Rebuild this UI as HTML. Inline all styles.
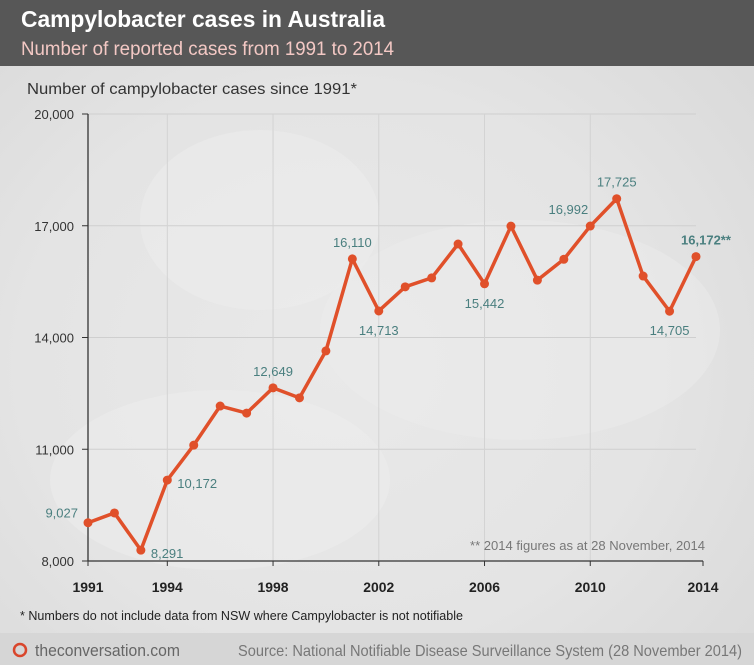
<!DOCTYPE html>
<html><head><meta charset="utf-8"><style>
body{margin:0;width:754px;height:665px;overflow:hidden;font-family:"Liberation Sans",sans-serif;}
</style></head><body>
<svg width="754" height="665" xmlns="http://www.w3.org/2000/svg" id="svg">
<defs>
<radialGradient id="bg" cx="0.45" cy="0.55" r="0.7"><stop offset="0" stop-color="#e9e9e9"/><stop offset="0.6" stop-color="#e4e4e4"/><stop offset="1" stop-color="#dadada"/></radialGradient>
</defs>
<rect x="0" y="0" width="754" height="665" fill="url(#bg)"/>
<ellipse cx="260" cy="220" rx="120" ry="90" fill="#eeeeee" opacity="0.5"/>
<ellipse cx="520" cy="330" rx="200" ry="110" fill="#ececec" opacity="0.5"/>
<ellipse cx="220" cy="480" rx="170" ry="90" fill="#eeeeee" opacity="0.5"/>
<rect x="0" y="0" width="754" height="66" fill="#575757"/>
<text x="21" y="27" font-size="23" font-weight="bold" fill="#fff" textLength="364" lengthAdjust="spacingAndGlyphs">Campylobacter cases in Australia</text>
<text x="21" y="55" font-size="19" fill="#f3c8c4" textLength="373" lengthAdjust="spacingAndGlyphs">Number of reported cases from 1991 to 2014</text>
<text x="27" y="94" font-size="16" fill="#333" textLength="330" lengthAdjust="spacingAndGlyphs">Number of campylobacter cases since 1991*</text>
<g id="grid"></g><g id="axes"></g><g id="series"></g>
<text x="470" y="550" font-size="13" fill="#777" textLength="235" lengthAdjust="spacingAndGlyphs">** 2014 figures as at 28 November, 2014</text>
<text x="20" y="620" font-size="13" fill="#222" textLength="443" lengthAdjust="spacingAndGlyphs">* Numbers do not include data from NSW where Campylobacter is not notifiable</text>
<rect x="0" y="633" width="754" height="32" fill="#d6d6d6"/>
<circle cx="20" cy="650" r="6" fill="none" stroke="#d9462c" stroke-width="2.5"/>
<text x="35" y="656" font-size="17" fill="#666" textLength="145" lengthAdjust="spacingAndGlyphs">theconversation.com</text>
<text x="238" y="656" font-size="16" fill="#777" textLength="504" lengthAdjust="spacingAndGlyphs">Source: National Notifiable Disease Surveillance System (28 November 2014)</text>
</svg>
<script>
const years=[1991,1992,1993,1994,1995,1996,1997,1998,1999,2000,2001,2002,2003,2004,2005,2006,2007,2008,2009,2010,2011,2012,2013,2014];
const cases=[9027,9290,8291,10172,11110,12160,11970,12649,12380,13640,16110,14713,15360,15600,16510,15442,16990,15540,16100,16992,17725,15650,14705,16172];
const yTicks=[8000,11000,14000,17000,20000];
const xTicks=[1991,1994,1998,2002,2006,2010,2014];
const labelled={1991:["9,027","l"],1993:["8,291","r"],1994:["10,172","r"],1998:["12,649","a"],2001:["16,110","a"],2002:["14,713","b"],2006:["15,442","b"],2010:["16,992","al"],2011:["17,725","a"],2013:["14,705","b"],2014:["16,172**","ar"]};
const X=y=>88+(y-1991)*(696-88)/23;
const Y=v=>561-(v-8000)*(561-114)/12000;
const NS="http://www.w3.org/2000/svg";
function mk(t,a,p){const e=document.createElementNS(NS,t);for(const k in a)e.setAttribute(k,a[k]);document.getElementById(p).appendChild(e);return e;}
yTicks.forEach(v=>{
 if(v>8000){const l=mk('line',{x1:88,x2:696,y1:Y(v),y2:Y(v),stroke:'#cfcfcf','stroke-width':1},'grid');
 
 }
 const t=mk('text',{x:74,y:Y(v)+5,'font-size':13,fill:'#333','text-anchor':'end'},'axes');t.textContent=v.toLocaleString('en-US');
 
 
 const tk=mk('line',{x1:82,x2:88,y1:Y(v),y2:Y(v),stroke:'#333'},'axes');
 
 
});
xTicks.forEach(yr=>{
 const x=yr===2014?703:X(yr);
 if(yr>1991&&yr<2014){const l=mk('line',{x1:x,x2:x,y1:114,y2:561,stroke:'#d3d3d3'},'grid');
 
 }
 const tk=mk('line',{x1:x,x2:x,y1:561,y2:566,stroke:'#333'},'axes');
 
 
 const t=mk('text',{x:x,y:592,'font-size':14,'font-weight':'bold',fill:'#222','text-anchor':'middle',textLength:31,lengthAdjust:'spacingAndGlyphs'},'axes');t.textContent=yr;
 
 
});
const ya=mk('line',{x1:88,x2:88,y1:114,y2:561,stroke:'#333','stroke-width':1.3},'axes');


const xa=mk('line',{x1:88,x2:703,y1:561,y2:561,stroke:'#333','stroke-width':1.3},'axes');


const pl=mk('polyline',{points:years.map((y,i)=>X(y)+','+Y(cases[i])).join(' '),fill:'none',stroke:'#e0502a','stroke-width':3.5,'stroke-linejoin':'round'},'series');


years.forEach((y,i)=>{
 const c=mk('circle',{cx:X(y),cy:Y(cases[i]),r:4.5,fill:'#e0502a'},'series');
 
 
 const lb=labelled[y];
 if(lb){let x=X(y),yy=Y(cases[i]),a='middle';
  if(lb[1]==='a')yy-=12;else if(lb[1]==='b')yy+=24;
  else if(lb[1]==='al'){x-=2;yy-=12;a='end';}
  else if(lb[1]==='ar'){x+=10;yy-=12;}
  else if(lb[1]==='l'){x=78;yy-=5;a='end';}else{x+=10;yy+=8;a='start';}
  const t=mk('text',{x:x,y:yy,'font-size':13,fill:'#4a7f7f','text-anchor':a,'font-weight':y===2014?'bold':'normal'},'series');t.textContent=lb[0];
  
  }
});
</script>
</body></html>
